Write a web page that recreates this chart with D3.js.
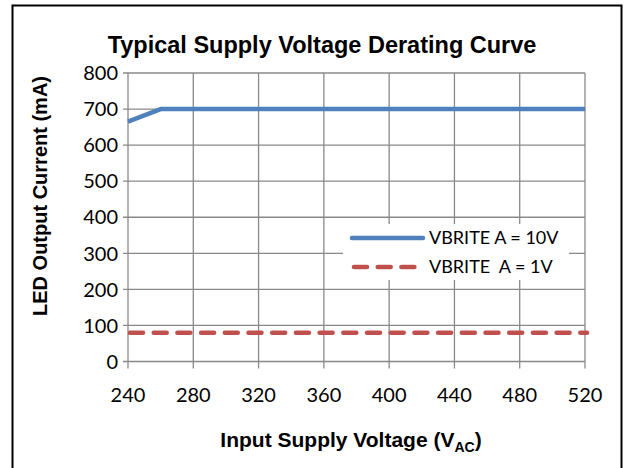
<!DOCTYPE html>
<html>
<head>
<meta charset="utf-8">
<script src="https://cdn.jsdelivr.net/npm/d3@7"></script>
<style>
  body { margin: 0; background: #fff; }
  svg { display: block; }
  .bold { font-family: 'Liberation Sans', Arial, sans-serif; font-weight: bold; }
  .num { font-family: Lato, sans-serif; }
</style>
</head>
<body>
<svg id="chart" width="629" height="468"></svg>
<script>
// chart data
const xTicks = [240, 280, 320, 360, 400, 440, 480, 520];
const yTicks = [0, 100, 200, 300, 400, 500, 600, 700, 800];
const vbrite10V = [[240, 665], [260, 700], [520, 700]];
const vbrite1V = [[240, 80], [520, 80]];
const legendLabels = ['VBRITE A = 10V', 'VBRITE  A = 1V'];

const svg = d3.select('#chart');
const margin = { left: 128, right: 44, top: 73, bottom: 106.5 };
const w = 629, h = 468;

const x = d3.scaleLinear().domain([240, 520]).range([margin.left, w - margin.right]);
const y = d3.scaleLinear().domain([0, 800]).range([h - margin.bottom, margin.top]);

const gridColor = '#898989';

// outer frame
svg.append('rect')
    .attr('x', 12.5).attr('y', 5.5)
    .attr('width', 609).attr('height', 470)
    .attr('fill', 'none').attr('stroke', '#000').attr('stroke-width', 2);

// title
svg.append('text')
    .attr('class', 'bold')
    .attr('x', 322).attr('y', 53)
    .attr('text-anchor', 'middle')
    .style('font-size', '23.5px')
    .text('Typical Supply Voltage Derating Curve');

// gridlines
svg.append('g').selectAll('line').data(yTicks).enter().append('line')
    .attr('x1', x(240) - 5).attr('x2', x(520))
    .attr('y1', d => y(d)).attr('y2', d => y(d))
    .attr('stroke', gridColor).attr('stroke-width', 1.3);

svg.append('g').selectAll('line').data(xTicks).enter().append('line')
    .attr('x1', d => x(d)).attr('x2', d => x(d))
    .attr('y1', y(800)).attr('y2', y(0) + 7)
    .attr('stroke', gridColor).attr('stroke-width', 1.3);

// tick labels
svg.append('g').selectAll('text').data(yTicks).enter().append('text')
    .attr('class', 'num')
    .attr('x', x(240) - 10).attr('y', d => y(d))
    .attr('dy', '0.36em')
    .attr('text-anchor', 'end')
    .style('font-size', '20px')
    .text(d => d);

svg.append('g').selectAll('text').data(xTicks).enter().append('text')
    .attr('class', 'num')
    .attr('x', d => x(d)).attr('y', y(0) + 33)
    .attr('dy', '0.36em')
    .attr('text-anchor', 'middle')
    .style('font-size', '20px')
    .text(d => d);

// axis titles
svg.append('text')
    .attr('class', 'bold')
    .attr('transform', 'translate(47,196) rotate(-90)')
    .attr('text-anchor', 'middle')
    .style('font-size', '20px')
    .text('LED Output Current (mA)');

const xt = svg.append('text')
    .attr('class', 'bold')
    .attr('x', 351).attr('y', 447)
    .attr('text-anchor', 'middle')
    .style('font-size', '21px');
xt.append('tspan').text('Input Supply Voltage (V');
xt.append('tspan').attr('dy', 5).style('font-size', '14px').text('AC');
xt.append('tspan').attr('dy', -5).text(')');

// series
const line = d3.line().x(d => x(d[0])).y(d => y(d[1]));

svg.append('path').datum(vbrite10V)
    .attr('d', line)
    .attr('fill', 'none').attr('stroke', '#4F81BD')
    .attr('stroke-width', 4.5).attr('stroke-linejoin', 'round');

svg.append('path').datum(vbrite1V)
    .attr('d', line)
    .attr('fill', 'none').attr('stroke', '#C0504D')
    .attr('stroke-width', 4.5).attr('stroke-linecap', 'round')
    .attr('stroke-dasharray', '13,10.7')
    .attr('transform', 'translate(2,0)');

// legend
const lg = svg.append('g');
lg.append('rect')
    .attr('x', 343).attr('y', 224).attr('width', 226).attr('height', 56)
    .attr('fill', '#fff');

const legendY = [238, 267];
lg.append('line')
    .attr('x1', 352).attr('x2', 423).attr('y1', legendY[0]).attr('y2', legendY[0])
    .attr('stroke', '#4F81BD').attr('stroke-width', 4.5).attr('stroke-linecap', 'round');
lg.append('line')
    .attr('x1', 354).attr('x2', 416).attr('y1', legendY[1]).attr('y2', legendY[1])
    .attr('stroke', '#C0504D').attr('stroke-width', 4.5).attr('stroke-linecap', 'round')
    .attr('stroke-dasharray', '13,10.7');

lg.selectAll('text.lbl').data(legendLabels).enter().append('text')
    .attr('class', 'lbl num')
    .attr('x', 429).attr('y', (d, i) => legendY[i])
    .attr('dy', '0.36em')
    .attr('xml:space', 'preserve')
    .style('white-space', 'pre')
    .style('font-size', '18px')
    .text(d => d);
</script>
</body>
</html>
